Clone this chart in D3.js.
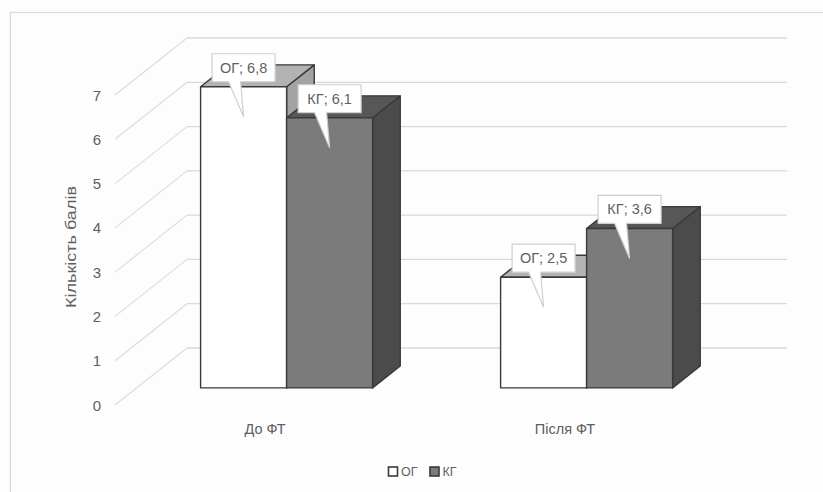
<!DOCTYPE html>
<html lang="uk">
<head>
<meta charset="utf-8">
<script src="https://cdn.jsdelivr.net/npm/d3@7"></script>
<style>
  html, body { margin: 0; padding: 0; background: #fff; }
  svg { display: block; font-family: "Liberation Sans", "DejaVu Sans", sans-serif; }
  .tick-label, .cat-label, .axis-title, .legend-text { fill: #5f5f5f; }
</style>
</head>
<body>
<div id="chart"></div>
<script>
// data
const categories = ['До ФТ', 'Після ФТ'];
const seriesNames = ['ОГ', 'КГ'];
const ogValues = [6.8, 2.5];
const kgValues = [6.1, 3.6];
const yTicks = [0, 1, 2, 3, 4, 5, 6, 7];

const W = 823, H = 492;
// back wall and oblique depth vector (back -> front)
const WALL = { left: 187, right: 787, bottom: 348, top: 38 };
const DEPTH = { dx: -72, dy: 57 };
const BAR_Z = [0.316, 0.70];

const STYLES = {
  'ОГ': { front: '#ffffff', top: '#b3b3b3', side: '#a3a3a3' },
  'КГ': { front: '#7b7b7b', top: '#575757', side: '#4b4b4b' }
};

const svg = d3.select('#chart').append('svg')
  .attr('width', W).attr('height', H);

svg.append('rect').attr('width', W).attr('height', H).attr('fill', '#fdfdfd');
svg.append('rect')
  .attr('x', 10.5).attr('y', 12.5).attr('width', 840).attr('height', 500)
  .attr('fill', 'none').attr('stroke', '#d9d9d9').attr('stroke-width', 1.2);

const y = d3.scaleLinear().domain([0, 7]).range([WALL.bottom, WALL.top]);
const x0 = d3.scaleBand().domain(categories).range([WALL.left, WALL.right]).padding(0);
const x1 = d3.scaleBand().domain(seriesNames).range([64, 236]).padding(0);

// project back-wall coords (x, value, depth z) to screen
function proj(x, v, z) {
  return [x + DEPTH.dx * z, y(v) + DEPTH.dy * z];
}

// gridlines on back wall + side wall
const grid = svg.append('g');
yTicks.forEach(t => {
  const a = proj(WALL.left, t, 0), b = proj(WALL.left, t, 1);
  grid.append('line')
    .attr('x1', WALL.left).attr('x2', WALL.right)
    .attr('y1', y(t)).attr('y2', y(t))
    .attr('stroke', '#d9d9d9').attr('stroke-width', 1.3);
  grid.append('line')
    .attr('x1', a[0]).attr('y1', a[1]).attr('x2', b[0]).attr('y2', b[1])
    .attr('stroke', '#dcdcdc').attr('stroke-width', 1.1);
  grid.append('text').attr('class', 'tick-label')
    .attr('x', b[0] - 14).attr('y', b[1])
    .attr('text-anchor', 'end').attr('dominant-baseline', 'central')
    .style('font-size', '15px')
    .text(t);
});

// axis title
svg.append('text').attr('class', 'axis-title')
  .attr('transform', 'translate(70,247) rotate(-90)')
  .attr('text-anchor', 'middle').attr('dominant-baseline', 'central')
  .attr('textLength', 122).attr('lengthAdjust', 'spacingAndGlyphs')
  .style('font-size', '15.5px')
  .text('Кількість балів');

// bars
const rows = categories.map((c, i) => ({ cat: c, values: [ogValues[i], kgValues[i]] }));
const bars = svg.append('g');
const labels = [];

function poly(points) {
  return 'M' + points.map(p => p.join(',')).join('L') + 'Z';
}

rows.forEach(row => {
  seriesNames.forEach((s, j) => {
    const v = row.values[j];
    const xl = x0(row.cat) + x1(s);
    const xr = xl + x1.bandwidth();
    const [zb, zf] = BAR_Z;
    const st = STYLES[s];
    const g = bars.append('g')
      .attr('stroke', '#3a3a3a').attr('stroke-width', 1.4).attr('stroke-linejoin', 'round');
    // right side
    g.append('path').attr('fill', st.side)
      .attr('d', poly([proj(xr, 0, zf), proj(xr, v, zf), proj(xr, v, zb), proj(xr, 0, zb)]));
    // top
    g.append('path').attr('fill', st.top)
      .attr('d', poly([proj(xl, v, zf), proj(xr, v, zf), proj(xr, v, zb), proj(xl, v, zb)]));
    // front
    g.append('path').attr('fill', st.front)
      .attr('d', poly([proj(xl, 0, zf), proj(xr, 0, zf), proj(xr, v, zf), proj(xl, v, zf)]));

    const topFront = proj(xl, v, zf);
    labels.push({
      cx: topFront[0] + x1.bandwidth() / 2,
      top: topFront[1],
      text: `${s}; ${String(v).replace('.', ',')}`
    });
  });
});

// category labels on front floor edge
categories.forEach(c => {
  const p = proj(x0(c) + x0.bandwidth() / 2, 0, 1);
  svg.append('text').attr('class', 'cat-label')
    .attr('x', p[0]).attr('y', 429)
    .attr('text-anchor', 'middle').attr('dominant-baseline', 'central')
    .style('font-size', '14.5px')
    .text(c);
});

// callout data labels
const BW = 63, BH = 28;
labels.forEach(d => {
  const cy = d.top - 19;
  const l = d.cx - BW / 2, r = d.cx + BW / 2, t = cy - BH / 2, b = cy + BH / 2;
  const tipY = d.top + 30;
  svg.append('path')
    .attr('d', `M${l},${t}H${r}V${b}H${d.cx - 3}L${d.cx},${tipY}L${d.cx - 15},${b}H${l}Z`)
    .attr('fill', '#ffffff').attr('stroke', '#cfcfcf').attr('stroke-width', 1.2);
  svg.append('text')
    .attr('x', d.cx).attr('y', cy)
    .attr('text-anchor', 'middle').attr('dominant-baseline', 'central')
    .attr('fill', '#5f5f5f').style('font-size', '14.5px')
    .text(d.text);
});

// legend
const legend = svg.append('g').attr('transform', 'translate(388,472)');
let lx = 0;
seriesNames.forEach(s => {
  legend.append('rect')
    .attr('x', lx + 0.5).attr('y', -5).attr('width', 9).attr('height', 9)
    .attr('fill', STYLES[s].front).attr('stroke', '#3a3a3a').attr('stroke-width', 1.6);
  const t = legend.append('text').attr('class', 'legend-text')
    .attr('x', lx + 13).attr('y', 0).attr('dominant-baseline', 'central')
    .style('font-size', '12.5px')
    .text(s);
  lx += 13 + t.node().getComputedTextLength() + 12;
});
</script>
</body>
</html>
